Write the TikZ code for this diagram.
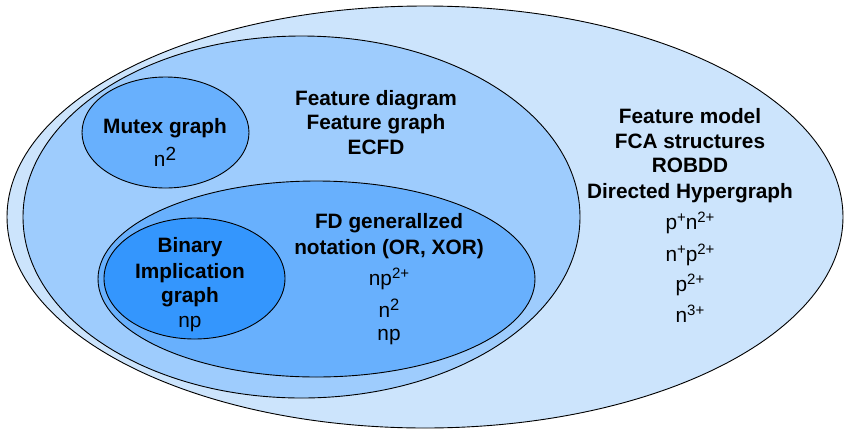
\documentclass[tikz,border=0pt]{standalone}
\usepackage{fontspec}
\setmainfont{Liberation Sans}
\usetikzlibrary{shapes.geometric, positioning}
\definecolor{modelblue}{RGB}{204, 228, 252}
\definecolor{diagblue}{RGB}{158, 204, 253}
\definecolor{notablue}{RGB}{104, 176, 253}
\definecolor{implblue}{RGB}{52, 150, 253}
\newcommand{\upidx}[2][15]{\raisebox{7pt}{\fontsize{#1}{#1}\selectfont #2}}

\begin{document}
\begin{tikzpicture}[
    x=1pt, y=-1pt,
    set/.style={draw, ellipse, line width=0.9pt, inner sep=0pt},
    title/.style={anchor=base, font=\fontsize{20.8}{24}\selectfont\bfseries},
    order/.style={anchor=base, font=\fontsize{20.8}{24}\selectfont}
]
\useasboundingbox (0,0) rectangle (846,429);

% Nested sets
\node[set, fill=modelblue, minimum width=836pt, minimum height=422pt] (modelset) at (425,217) {};
\node[set, fill=diagblue, minimum width=557pt, minimum height=362pt] (diagset) at (301.5,217) {};
\node[set, fill=notablue, minimum width=167pt, minimum height=111pt] (mutexset) at (165.5,132.5) {};
\node[set, fill=notablue, minimum width=437pt, minimum height=196pt] (notaset) at (316.5,279) {};
\node[set, fill=implblue, minimum width=181pt, minimum height=121pt] (implset) at (194.5,278.5) {};

% Feature model
\node[title] (fm1) at (690,123) {Feature model};
\node[title] (fm2) at (690,148) {FCA structures};
\node[title] (fm3) at (690,172) {ROBDD};
\node[title] (fm4) at (690,198) {Directed Hypergraph};
\node[order] (fm5) at (690,229) {p\upidx{+}n\upidx{2+}};
\node[order] (fm6) at (690,261) {n\upidx{+}p\upidx{2+}};
\node[order] (fm7) at (690,291) {p\upidx{2+}};
\node[order] (fm8) at (690,322) {n\upidx{3+}};

% Feature diagram
\node[title] (fd1) at (376,105) {Feature diagram};
\node[title] (fd2) at (376,129) {Feature graph};
\node[title] (fd3) at (376,154) {ECFD};

% Mutex graph
\node[title] (mx1) at (165,133) {Mutex graph};
\node[order] (mx2) at (165,166) {n\raisebox{5.5pt}{\fontsize{19}{19}\selectfont 2}};

% FD generalized notation
\node[title] (gn1) at (389,228) {FD generallzed};
\node[title] (gn2) at (389,254) {notation (OR, XOR)};
\node[order] (gn3) at (389,285) {np\upidx{2+}};
\node[order] (gn4) at (389,317) {n\upidx[16.5]{2}};
\node[order] (gn5) at (389,340) {np};

% Binary implication graph
\node[title] (bi1) at (190,252) {Binary};
\node[title] (bi2) at (190,278) {Implication};
\node[title] (bi3) at (190,302) {graph};
\node[order] (bi4) at (190,327) {np};

\end{tikzpicture}
\end{document}
